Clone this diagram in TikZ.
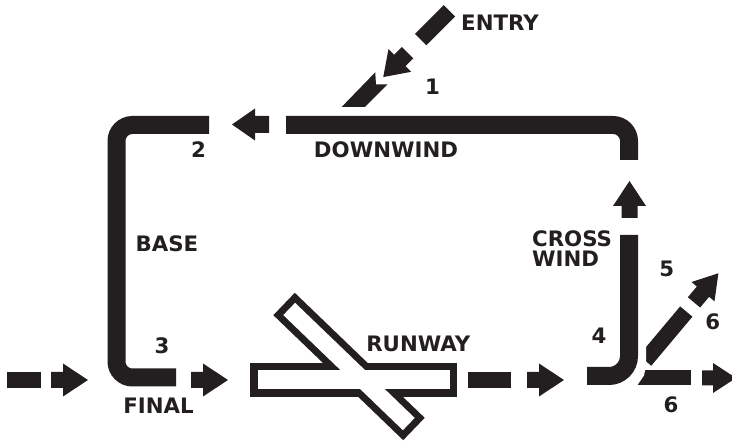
\documentclass[tikz,border=0pt]{standalone}
\usepackage{fontspec}
\setmainfont{DejaVu Sans}
\definecolor{ink}{HTML}{231F20}
\tikzset{
  bar/.style={draw=ink, line width=18pt},
  gap/.style={draw=white, line width=34pt},
  lbl/.style={font=\bfseries\fontsize{21.3}{20}\selectfont, text=ink, inner sep=0pt},
}
\begin{document}
\begin{tikzpicture}[x=1pt,y=-1pt]
\useasboundingbox (0,0) rectangle (732,443);

% ---- corner points of the circuit ----
\coordinate (baseTop)   at (209,125);
\coordinate (nwCorner)  at (116.5,125);
\coordinate (swCorner)  at (116.5,377.5);
\coordinate (finalEnd)  at (176,377.5);
\coordinate (dwStart)   at (286,125);
\coordinate (neCorner)  at (629,125);
\coordinate (dwEnd)     at (629,160);
\coordinate (cwStart)   at (629,235);
\coordinate (seCorner)  at (629,376);
\coordinate (cwEnd)     at (587,376);

% ---- base / final leg and downwind leg ----
\draw[bar, rounded corners=16pt] (baseTop) -- (nwCorner) -- (swCorner) -- (finalEnd);
\draw[bar, rounded corners=16pt] (dwStart) -- (neCorner) -- (dwEnd);

% arrow along downwind (pointing left)
\fill[ink] (269,116) -- (255,116) -- (255,108.5) -- (232,124.5) -- (255,140.5) -- (255,133) -- (269,133) -- cycle;
% arrow up the crosswind leg
\fill[ink] (621.5,218) -- (621.5,206) -- (613,206) -- (629.5,181) -- (646,206) -- (637.5,206) -- (637.5,218) -- cycle;

% ---- approach from the left ----
\fill[ink] (7,372) rectangle (41,388);
\fill[ink] (51,372) -- (63,372) -- (63,363.5) -- (88,380) -- (63,396.5) -- (63,388) -- (51,388) -- cycle;
\fill[ink] (191,372) -- (203,372) -- (203,363.5) -- (228,380) -- (203,396.5) -- (203,388) -- (191,388) -- cycle;

% ---- runway (two crossing strips, outlined as one) ----
\fill[ink] (250,363) rectangle (457,397);
\begin{scope}[shift={(349,366.5)}, rotate=-43.9]
  \fill[ink] (-90.15,-15.5) rectangle (90.15,15.5);
\end{scope}
\fill[white] (257.5,370.5) rectangle (449.5,389.5);
\begin{scope}[shift={(349,366.5)}, rotate=-43.9]
  \fill[white] (-83,-8.5) rectangle (83,8.5);
\end{scope}

% ---- departure roll ----
\fill[ink] (468,372.5) rectangle (511,388);
\fill[ink] (527,372) -- (539,372) -- (539,363.5) -- (564,380) -- (539,396.5) -- (539,388) -- (527,388) -- cycle;

% ---- departures straight out and at 45 degrees ----
\fill[ink] (625,370.5) rectangle (691,385.5);
\fill[ink] (702,370.5) -- (713,370.5) -- (713,363) -- (736,378) -- (713,393) -- (713,385.5) -- (702,385.5) -- cycle;
\begin{scope}[shift={(649,356)}, rotate=50]
  \fill[ink] (-6,-8) rectangle (58,8);
  \fill[ink] (70,-8) -- (84,-8) -- (84,-15) -- (108,0) -- (84,15) -- (84,8) -- (70,8) -- cycle;
\end{scope}

% ---- crosswind leg, set off from the departures by a white gap ----
\draw[gap, rounded corners=12pt] (cwStart) -- (seCorner) -- (cwEnd);
\draw[bar, rounded corners=20pt] (cwStart) -- (seCorner) -- (cwEnd);

% ---- entry at 45 degrees into downwind ----
\begin{scope}[shift={(449.5,10.8)}, rotate=-135]
  \fill[ink] (0,-8) rectangle (40.8,8);
  \fill[ink] (59.2,-8) -- (70.3,-8) -- (70.3,-16) -- (93.7,0) -- (70.3,16) -- (70.3,8) -- (59.2,8) -- cycle;
  \fill[ink] (96,9) -- (104,0) -- (95.75,-8.25) -- (127.8,-8.25) -- (144.3,8.25) -- cycle;
\end{scope}

% ---- labels ----
\node[lbl] (entry)    at (500,22.5)  {ENTRY};
\node[lbl] (n1)       at (432.5,87)  {1};
\node[lbl] (n2)       at (198.5,150) {2};
\node[lbl] (downwind) at (386,150)   {DOWNWIND};
\node[lbl] (base)     at (167,244)   {BASE};
\node[lbl] (n3)       at (162,346)   {3};
\node[lbl] (final)    at (158.5,405.5) {FINAL};
\node[lbl] (runway)   at (418.3,344) {RUNWAY};
\node[lbl, align=left, anchor=north west] (cross) at (532,230) {CROSS\\WIND};
\node[lbl] (n4)       at (599,336)   {4};
\node[lbl] (n5)       at (666.7,269) {5};
\node[lbl] (n6a)      at (712.7,322) {6};
\node[lbl] (n6b)      at (671,405)   {6};
\end{tikzpicture}
\end{document}
